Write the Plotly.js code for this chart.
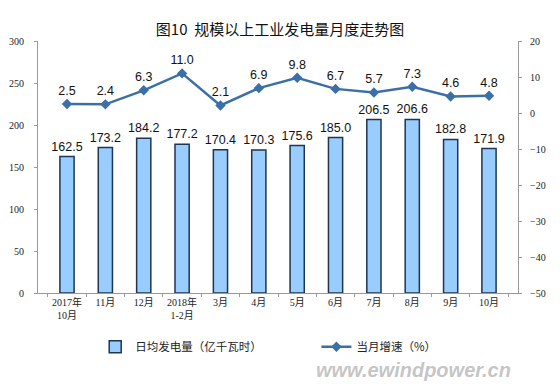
<!DOCTYPE html>
<html><head><meta charset="utf-8">
<script src="https://cdn.plot.ly/plotly-3.0.1.min.js"></script>
<style>html,body{margin:0;padding:0;background:#fff}#c{width:560px;height:384px}</style>
</head><body><div id="c"></div>
<script>
var categories = ["2017年<br>10月","11月","12月","2018年<br>1-2月","3月","4月","5月","6月","7月","8月","9月","10月"];
var dailyOutput = [162.5,173.2,184.2,177.2,170.4,170.3,175.6,185.0,206.5,206.6,182.8,171.9];
var growthRate = [2.5,2.4,6.3,11.0,2.1,6.9,9.8,6.7,5.7,7.3,4.6,4.8];
var title = "图10  规模以上工业发电量月度走势图";
var barName = "日均发电量（亿千瓦时）";
var lineName = "当月增速（%）";
var watermark = "www.ewindpower.cn";
</script>
<script>
var bar = {
  type:'bar', x:categories, y:dailyOutput, name:barName, legend:'legend',
  marker:{color:'#99CCFF', line:{color:'#1F3550', width:1.5}},
  text:dailyOutput.map(function(v){return v.toFixed(1);}),
  textposition:'outside', cliponaxis:false, constraintext:'none',
  textfont:{family:'Liberation Sans, Arial', size:12.5, color:'#111'},
  hoverinfo:'skip'
};
var line = {
  type:'scatter', mode:'lines+markers+text', x:categories, y:growthRate, yaxis:'y2', name:lineName, legend:'legend2',
  line:{color:'#3B6FA8', width:2.5},
  marker:{symbol:'diamond', size:8, color:'#3B6FA8'},
  text:growthRate.map(function(v){return v.toFixed(1);}),
  textposition:'top center', cliponaxis:false,
  textfont:{family:'Liberation Sans, Arial', size:12.5, color:'#111'},
  hoverinfo:'skip'
};
var tickFont = {family:'Liberation Serif, DejaVu Serif, Noto Sans CJK SC', size:10, color:'#222'};
var legFont = {family:'Noto Sans CJK SC', size:11.5, color:'#222'};
var layout = {
  width:560, height:384,
  margin:{l:38, r:42, t:41, b:91, autoexpand:false},
  paper_bgcolor:'#fff', plot_bgcolor:'#fff',
  title:{text:title, x:0.5, xanchor:'center', y:0.935, font:{family:'Noto Sans CJK SC', size:15, color:'#111'}},
  bargap:0.63,
  showlegend:true,
  legend:{orientation:'h', xref:'container', yref:'container', x:0.17, xanchor:'left', y:0.097, yanchor:'middle', font:legFont, bgcolor:'rgba(0,0,0,0)'},
  legend2:{orientation:'h', xref:'container', yref:'container', x:0.565, xanchor:'left', y:0.097, yanchor:'middle', font:legFont, bgcolor:'rgba(0,0,0,0)'},
  xaxis:{type:'category', showline:true, linecolor:'#999', linewidth:1, ticks:'outside', tickson:'boundaries', ticklen:3, tickcolor:'#999', tickfont:tickFont, tickangle:0, showgrid:false, zeroline:false},
  yaxis:{range:[0,300], dtick:50, showline:true, linecolor:'#999', linewidth:1, ticks:'outside', ticklen:3, tickcolor:'#999', showgrid:false, zeroline:false, tickfont:tickFont, ticklabelstandoff:8},
  yaxis2:{range:[-50,20], dtick:10, overlaying:'y', side:'right', showline:true, linecolor:'#999', linewidth:1, ticks:'outside', ticklen:3, tickcolor:'#999', showgrid:false, zeroline:false, tickfont:tickFont, ticklabelstandoff:6},
  annotations:[{text:'<b><i>'+watermark+'</i></b>', xref:'paper', yref:'paper', x:0.99, y:-0.305, xanchor:'right', yanchor:'middle', showarrow:false,
    font:{family:'Liberation Sans, Arial', size:20, color:'rgba(140,140,140,0.5)'}}]
};
Plotly.newPlot('c', [bar, line], layout, {staticPlot:true, displayModeBar:false});
</script>
</body></html>
